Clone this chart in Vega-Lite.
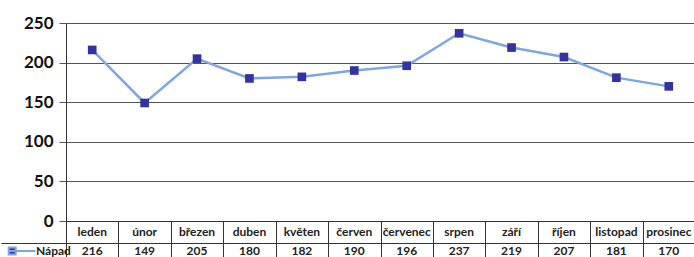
{
  "$schema": "https://vega.github.io/schema/vega-lite/v6.json",
  "autosize": {"type": "pad"},
  "padding": {"left": 0, "top": 14, "right": 0, "bottom": 0},
  "background": "white",
  "config": {"view": {"stroke": null}, "font": "Lato"},
  "data": {"values": [
    {"month": "leden", "value": 216, "series": "Nápad"},
    {"month": "únor", "value": 149, "series": "Nápad"},
    {"month": "březen", "value": 205, "series": "Nápad"},
    {"month": "duben", "value": 180, "series": "Nápad"},
    {"month": "květen", "value": 182, "series": "Nápad"},
    {"month": "červen", "value": 190, "series": "Nápad"},
    {"month": "červenec", "value": 196, "series": "Nápad"},
    {"month": "srpen", "value": 237, "series": "Nápad"},
    {"month": "září", "value": 219, "series": "Nápad"},
    {"month": "říjen", "value": 207, "series": "Nápad"},
    {"month": "listopad", "value": 181, "series": "Nápad"},
    {"month": "prosinec", "value": 170, "series": "Nápad"}
  ]},
  "vconcat": [
    {
      "width": 629,
      "height": 198,
      "encoding": {
        "x": {"field": "month", "type": "nominal", "sort": null,
              "scale": {"type": "band", "paddingInner": 0, "paddingOuter": 0},
              "axis": null},
        "y": {"field": "value", "type": "quantitative",
              "scale": {"domain": [0, 250], "nice": false},
              "axis": {"values": [0, 50, 100, 150, 200, 250], "title": null,
                       "grid": true, "gridColor": "#555", "gridWidth": 1,
                       "tickSize": 7, "tickColor": "#555", "labelPadding": 6,
                       "labelFont": "Lato", "labelFontWeight": "bold", "labelFontSize": 17,
                       "labelColor": "#111", "domain": true, "domainColor": "#333"}}
      },
      "layer": [
        {"mark": {"type": "line", "strokeWidth": 2.5},
         "encoding": {"color": {"field": "series", "type": "nominal",
            "scale": {"range": ["#7EA6E0"]},
            "legend": {"orient": "none", "legendX": -52, "legendY": 220, "title": null,
                       "symbolType": "M-1.9,0 H1.9 M-1.9,-0.5 h1 v1 h-1 Z",
                       "symbolSize": 196, "symbolStrokeWidth": 2,
                       "labelFont": "Lato", "labelFontWeight": "bold", "labelFontSize": 12,
                       "labelColor": "#222", "labelOffset": 6,
                       "encode": {"symbols": {"update": {"fill": {"value": "#3636A0"}, "stroke": {"value": "#7EA6E0"}}}}}}}},
        {"mark": {"type": "point", "shape": "square", "filled": true, "size": 75, "color": "#3333A0", "opacity": 1}}
      ]
    },
    {
      "width": 629,
      "height": 44,
      "encoding": {
        "x": {"field": "month", "type": "nominal", "sort": null,
              "scale": {"type": "band", "paddingInner": 0, "paddingOuter": 0},
              "axis": {"orient": "top", "labels": false, "ticks": false, "domain": true, "domainColor": "#333",
                       "grid": true, "tickBand": "extent", "gridColor": "#333", "title": null}}
      },
      "layer": [
        {"mark": {"type": "text", "font": "Lato", "fontWeight": "bold", "fontSize": 12, "color": "#222"},
         "encoding": {"text": {"field": "month"},
                      "y": {"datum": "m", "type": "nominal",
                            "scale": {"domain": ["m", "v"], "paddingInner": 0, "paddingOuter": 0},
                            "axis": {"labels": false, "title": null, "ticks": true, "tickBand": "extent",
                                     "tickSize": 65, "tickColor": "#333", "grid": true, "gridColor": "#333",
                                     "domain": true, "domainColor": "#333", "values": ["v"]}}}},
        {"mark": {"type": "text", "font": "Lato", "fontWeight": "bold", "fontSize": 12, "color": "#222", "dy": -3},
         "encoding": {"text": {"field": "value"},
                      "y": {"datum": "v", "type": "nominal"}}}
      ]
    }
  ],
  "spacing": 0,
  "bounds": "flush"
}
